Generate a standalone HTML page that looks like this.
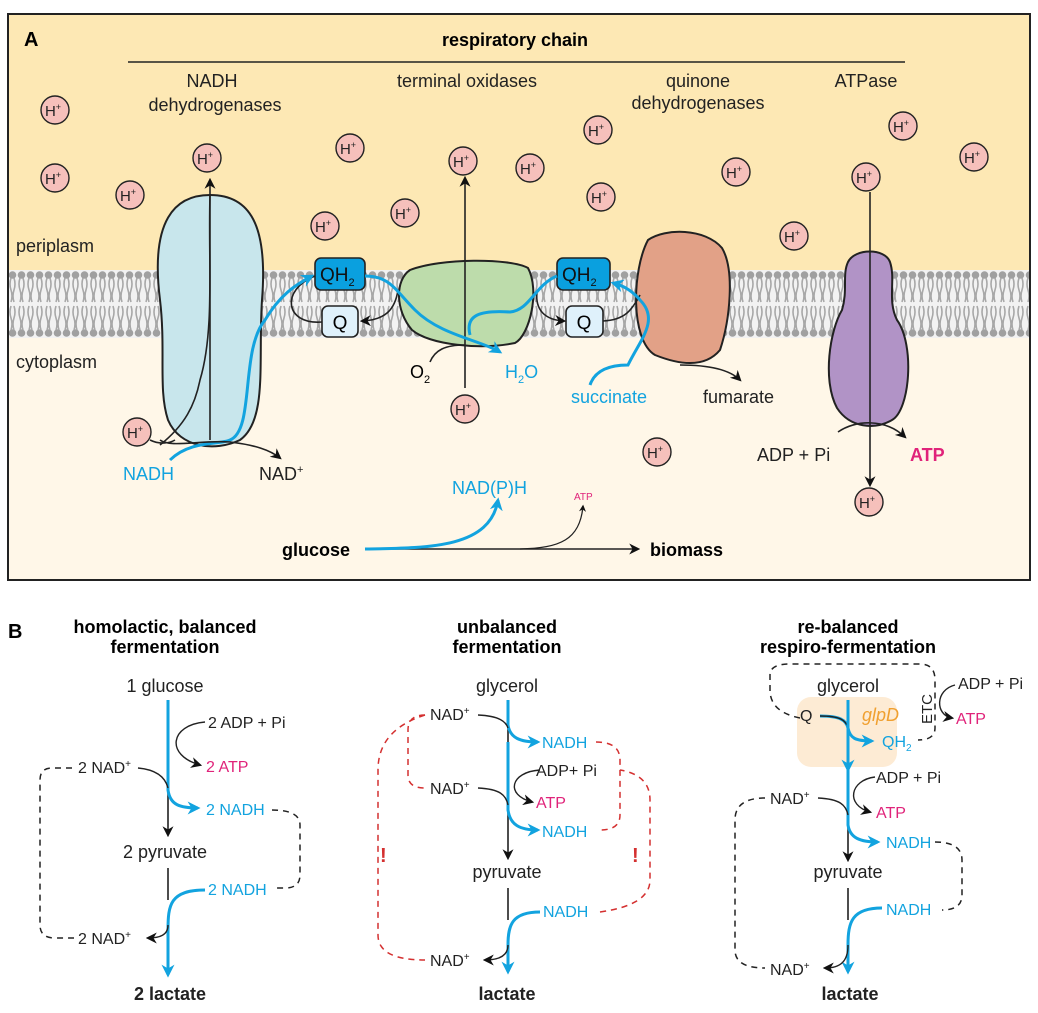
<!DOCTYPE html>
<html><head><meta charset="utf-8"><style>
html,body{margin:0;padding:0;background:#fff}
svg{display:block}
text{font-family:"Liberation Sans",Arial,sans-serif}
</style></head><body>
<svg width="1038" height="1013" viewBox="0 0 1038 1013" xmlns="http://www.w3.org/2000/svg">
<defs>
<marker id="ab" viewBox="0 0 10 10" refX="8" refY="5" markerWidth="11" markerHeight="11" markerUnits="userSpaceOnUse" orient="auto-start-reverse"><path d="M0,0 L10,5 L0,10 L3,5z" fill="#111"/></marker>
<marker id="ac" viewBox="0 0 10 10" refX="8" refY="5" markerWidth="13" markerHeight="13" markerUnits="userSpaceOnUse" orient="auto-start-reverse"><path d="M0,0 L10,5 L0,10 L3,5z" fill="#12a3df"/></marker>
<marker id="as" viewBox="0 0 10 10" refX="8" refY="5" markerWidth="7" markerHeight="7" markerUnits="userSpaceOnUse" orient="auto"><path d="M0,0 L10,5 L0,10 L3,5z" fill="#111"/></marker>
<pattern id="lip" width="9" height="68" patternUnits="userSpaceOnUse" x="8" y="270">
<circle cx="4.5" cy="5" r="3.8" fill="#a0a0a0"/>
<circle cx="4.5" cy="63" r="3.8" fill="#a0a0a0"/>
<path d="M3,8 q-2,6 0,12 q2,6 0,12 M6,8 q2,6 0,12 q-2,6 0,12 M3,36 q-2,6 0,12 q2,6 0,12 M6,36 q2,6 0,12 q-2,6 0,12" stroke="#a8a8a8" stroke-width="1.6" fill="none"/>
</pattern>
</defs>
<rect x="8" y="14" width="1022" height="566" fill="#fff7e8"/>
<rect x="8" y="14" width="1022" height="292" fill="#fde8b4"/>
<rect x="8" y="270" width="1022" height="68" fill="#f2f2f2"/>
<rect x="8" y="270" width="1022" height="68" fill="url(#lip)"/>
<rect x="8" y="14" width="1022" height="566" fill="none" stroke="#222" stroke-width="2"/>
<text x="24" y="46" font-size="20" font-weight="bold">A</text>
<text x="515" y="46" font-size="18" font-weight="bold" text-anchor="middle">respiratory chain</text>
<line x1="128" y1="62" x2="905" y2="62" stroke="#222" stroke-width="1.5"/>
<g font-size="18" text-anchor="middle" fill="#222">
<text x="212" y="87">NADH</text><text x="215" y="111">dehydrogenases</text>
<text x="467" y="87">terminal oxidases</text>
<text x="698" y="87">quinone</text><text x="698" y="109">dehydrogenases</text>
<text x="866" y="87">ATPase</text>
</g>
<text x="16" y="252" font-size="18" fill="#222">periplasm</text>
<text x="16" y="368" font-size="18" fill="#222">cytoplasm</text>
<path d="M160,300 C150,220 175,195 210,195 C250,195 268,225 262,300 C258,360 268,420 240,440 C215,452 180,448 168,420 C158,390 166,350 160,300Z" fill="#c8e6ec" stroke="#222" stroke-width="2"/>
<path d="M210,195 C208,260 215,330 200,380 C195,405 185,425 160,445" fill="none" stroke="#222" stroke-width="1.6"/>
<path d="M410,270 C440,258 510,258 528,268 C540,290 530,335 515,343 C480,350 430,345 412,330 C395,310 395,280 410,270Z" fill="#bddcab" stroke="#222" stroke-width="2"/>
<path d="M648,240 C665,228 705,228 722,248 C735,270 730,320 720,350 C705,368 680,365 655,355 C630,340 632,270 648,240Z" fill="#e2a187" stroke="#222" stroke-width="2"/>
<path d="M848,262 C855,248 885,248 890,262 C896,280 887,300 897,320 C915,345 910,410 892,420 C875,430 850,428 837,408 C822,380 830,330 842,310 C848,290 842,275 848,262Z" fill="#b193c6" stroke="#222" stroke-width="2"/>
<line x1="210" y1="440" x2="210" y2="180" stroke="#222" stroke-width="1.6" marker-end="url(#ab)"/>
<line x1="465" y1="388" x2="465" y2="178" stroke="#222" stroke-width="1.6" marker-end="url(#ab)"/>
<line x1="870" y1="192" x2="870" y2="485" stroke="#222" stroke-width="1.6" marker-end="url(#ab)"/>
<rect x="315" y="258" width="50" height="32" rx="6" fill="#0aa0df" stroke="#222" stroke-width="1.6"/>
<text x="320" y="281" font-size="19" fill="#111">QH<tspan font-size="11" dy="5">2</tspan></text>
<rect x="322" y="306" width="36" height="31" rx="6" fill="#dff1fb" stroke="#222" stroke-width="1.6"/>
<text x="340" y="329" font-size="19" text-anchor="middle">Q</text>
<rect x="557" y="258" width="53" height="32" rx="6" fill="#0aa0df" stroke="#222" stroke-width="1.6"/>
<text x="562" y="281" font-size="19" fill="#111">QH<tspan font-size="11" dy="5">2</tspan></text>
<rect x="566" y="306" width="37" height="31" rx="6" fill="#dff1fb" stroke="#222" stroke-width="1.6"/>
<text x="584" y="329" font-size="19" text-anchor="middle">Q</text>
<path d="M315,276 C280,290 285,325 322,322" fill="none" stroke="#222" stroke-width="1.6"/>
<path d="M398,290 C395,310 385,320 362,321" fill="none" stroke="#222" stroke-width="1.6" marker-end="url(#ab)"/>
<path d="M537,292 C535,310 545,320 564,321" fill="none" stroke="#222" stroke-width="1.6" marker-end="url(#ab)"/>
<path d="M603,321 C625,320 632,310 640,295" fill="none" stroke="#222" stroke-width="1.6"/>
<path d="M170,460 C190,440 220,445 230,440 C255,430 240,350 265,320 C280,295 295,285 312,276" fill="none" stroke="#12a3df" stroke-width="3" marker-end="url(#ac)"/>
<path d="M365,276 C390,276 395,290 415,310 C440,335 480,340 500,352" fill="none" stroke="#12a3df" stroke-width="3" marker-end="url(#ac)"/>
<path d="M557,276 C535,285 530,310 510,312 C480,310 465,315 470,335" fill="none" stroke="#12a3df" stroke-width="3"/>
<path d="M590,385 C595,370 610,365 628,365 C640,340 660,320 640,300 C630,288 620,285 613,283" fill="none" stroke="#12a3df" stroke-width="3" marker-end="url(#ac)"/>
<path d="M160,440 C170,448 200,440 230,442 C255,445 270,450 280,458" fill="none" stroke="#222" stroke-width="1.6" marker-end="url(#ab)"/>
<path d="M150,440 C160,445 170,443 175,440" fill="none" stroke="#222" stroke-width="1.6"/>
<path d="M430,362 C435,350 445,345 465,345" fill="none" stroke="#222" stroke-width="1.6"/>
<path d="M680,365 C710,365 730,370 740,380" fill="none" stroke="#222" stroke-width="1.6" marker-end="url(#ab)"/>
<path d="M838,432 C855,420 885,418 905,437" fill="none" stroke="#222" stroke-width="1.6" marker-end="url(#ab)"/>
<text x="410" y="378" font-size="18">O<tspan font-size="11" dy="5">2</tspan></text>
<text x="505" y="378" font-size="18" fill="#12a3df">H<tspan font-size="11" dy="5">2</tspan><tspan dy="-5">O</tspan></text>
<text x="571" y="403" font-size="18" fill="#12a3df">succinate</text>
<text x="703" y="403" font-size="18" fill="#222">fumarate</text>
<text x="757" y="461" font-size="18" fill="#222">ADP + Pi</text>
<text x="910" y="461" font-size="18" font-weight="bold" fill="#e0237a">ATP</text>
<text x="123" y="480" font-size="18" fill="#12a3df">NADH</text>
<text x="259" y="480" font-size="18" fill="#222">NAD<tspan font-size="11" dy="-7">+</tspan></text>
<text x="452" y="494" font-size="18" fill="#12a3df">NAD(P)H</text>
<text x="574" y="500" font-size="10" fill="#e0237a">ATP</text>
<text x="282" y="556" font-size="18" font-weight="bold">glucose</text>
<text x="650" y="556" font-size="18" font-weight="bold">biomass</text>
<path d="M365,549 L638,549" stroke="#222" stroke-width="1.6" marker-end="url(#ab)"/>
<path d="M520,549 C560,548 580,540 583,506" fill="none" stroke="#222" stroke-width="1.3" marker-end="url(#as)"/>
<path d="M365,549 C430,548 490,548 498,500" fill="none" stroke="#12a3df" stroke-width="3" marker-end="url(#ac)"/>
<g font-size="15" text-anchor="middle">
<g fill="#f6c0bb" stroke="#222" stroke-width="1.4">
<circle cx="55" cy="110" r="14"/><circle cx="55" cy="178" r="14"/><circle cx="130" cy="195" r="14"/><circle cx="207" cy="158" r="14"/><circle cx="350" cy="148" r="14"/><circle cx="325" cy="226" r="14"/><circle cx="405" cy="213" r="14"/><circle cx="463" cy="161" r="14"/><circle cx="530" cy="168" r="14"/><circle cx="598" cy="130" r="14"/><circle cx="601" cy="197" r="14"/><circle cx="736" cy="172" r="14"/><circle cx="794" cy="236" r="14"/><circle cx="903" cy="126" r="14"/><circle cx="974" cy="157" r="14"/><circle cx="866" cy="177" r="14"/><circle cx="465" cy="409" r="14"/><circle cx="657" cy="452" r="14"/><circle cx="869" cy="502" r="14"/><circle cx="137" cy="432" r="14"/>
</g>
<g fill="#222">
<text x="53" y="116">H<tspan font-size="9" dy="-6">+</tspan></text><text x="53" y="184">H<tspan font-size="9" dy="-6">+</tspan></text><text x="128" y="201">H<tspan font-size="9" dy="-6">+</tspan></text><text x="205" y="164">H<tspan font-size="9" dy="-6">+</tspan></text><text x="348" y="154">H<tspan font-size="9" dy="-6">+</tspan></text><text x="323" y="232">H<tspan font-size="9" dy="-6">+</tspan></text><text x="403" y="219">H<tspan font-size="9" dy="-6">+</tspan></text><text x="461" y="167">H<tspan font-size="9" dy="-6">+</tspan></text><text x="528" y="174">H<tspan font-size="9" dy="-6">+</tspan></text><text x="596" y="136">H<tspan font-size="9" dy="-6">+</tspan></text><text x="599" y="203">H<tspan font-size="9" dy="-6">+</tspan></text><text x="734" y="178">H<tspan font-size="9" dy="-6">+</tspan></text><text x="792" y="242">H<tspan font-size="9" dy="-6">+</tspan></text><text x="901" y="132">H<tspan font-size="9" dy="-6">+</tspan></text><text x="972" y="163">H<tspan font-size="9" dy="-6">+</tspan></text><text x="864" y="183">H<tspan font-size="9" dy="-6">+</tspan></text><text x="463" y="415">H<tspan font-size="9" dy="-6">+</tspan></text><text x="655" y="458">H<tspan font-size="9" dy="-6">+</tspan></text><text x="867" y="508">H<tspan font-size="9" dy="-6">+</tspan></text><text x="135" y="438">H<tspan font-size="9" dy="-6">+</tspan></text>
</g></g>

<text x="8" y="638" font-size="20" font-weight="bold">B</text>
<g font-size="18" font-weight="bold" text-anchor="middle">
<text x="165" y="633">homolactic, balanced</text><text x="165" y="653">fermentation</text>
<text x="507" y="633">unbalanced</text><text x="507" y="653">fermentation</text>
<text x="848" y="633">re-balanced</text><text x="848" y="653">respiro-fermentation</text>
</g>
<g font-size="16" fill="#222">
<text x="165" y="692" font-size="18" text-anchor="middle">1 glucose</text>
<path d="M168,700 L168,835" stroke="#222" stroke-width="1.6" marker-end="url(#ab)"/>
<path d="M168,700 L168,790 C170,805 180,808 198,808" fill="none" stroke="#12a3df" stroke-width="3" marker-end="url(#ac)"/>
<path d="M205,722 C170,725 165,755 200,765" fill="none" stroke="#222" stroke-width="1.4" marker-end="url(#ab)"/>
<text x="208" y="728">2 ADP + Pi</text>
<text x="206" y="772" fill="#e0237a">2 ATP</text>
<path d="M138,768 C160,770 166,780 168,788" fill="none" stroke="#222" stroke-width="1.4"/>
<text x="78" y="773">2 NAD<tspan font-size="10" dy="-6">+</tspan></text>
<text x="206" y="815" fill="#12a3df">2 NADH</text>
<text x="165" y="858" font-size="18" text-anchor="middle">2 pyruvate</text>
<path d="M168,868 L168,900" stroke="#222" stroke-width="1.6"/>
<path d="M205,890 C170,890 168,905 168,930 L168,975" fill="none" stroke="#12a3df" stroke-width="3" marker-end="url(#ac)"/>
<text x="208" y="895" fill="#12a3df">2 NADH</text>
<path d="M168,925 C168,935 160,938 148,938" fill="none" stroke="#222" stroke-width="1.4" marker-end="url(#ab)"/>
<text x="78" y="944">2 NAD<tspan font-size="10" dy="-6">+</tspan></text>
<path d="M72,768 L52,768 Q40,768 40,780 L40,925 Q40,938 55,938 L74,938" fill="none" stroke="#222" stroke-width="1.5" stroke-dasharray="6,5"/>
<path d="M272,810 Q300,810 300,825 L300,875 Q300,888 285,888 L274,888" fill="none" stroke="#222" stroke-width="1.5" stroke-dasharray="6,5"/>
<text x="170" y="1000" font-size="18" font-weight="bold" text-anchor="middle">2 lactate</text>
<text x="507" y="692" font-size="18" text-anchor="middle">glycerol</text>
<path d="M508,700 L508,858" stroke="#222" stroke-width="1.6" marker-end="url(#ab)"/>
<path d="M508,700 L508,725 C510,738 520,742 538,742" fill="none" stroke="#12a3df" stroke-width="3" marker-end="url(#ac)"/>
<path d="M508,742 L508,810 C510,825 520,830 538,830" fill="none" stroke="#12a3df" stroke-width="3" marker-end="url(#ac)"/>
<path d="M478,715 C500,716 506,722 508,728" fill="none" stroke="#222" stroke-width="1.4"/>
<text x="430" y="720">NAD<tspan font-size="10" dy="-6">+</tspan></text>
<text x="542" y="748" fill="#12a3df">NADH</text>
<path d="M540,770 C510,772 505,795 532,802" fill="none" stroke="#222" stroke-width="1.4" marker-end="url(#ab)"/>
<text x="536" y="776">ADP+ Pi</text>
<text x="536" y="808" fill="#e0237a">ATP</text>
<path d="M478,788 C500,789 506,795 508,805" fill="none" stroke="#222" stroke-width="1.4"/>
<text x="430" y="794">NAD<tspan font-size="10" dy="-6">+</tspan></text>
<text x="542" y="837" fill="#12a3df">NADH</text>
<text x="507" y="878" font-size="18" text-anchor="middle">pyruvate</text>
<path d="M508,888 L508,920" stroke="#222" stroke-width="1.6"/>
<path d="M540,912 C512,912 508,925 508,945 L508,972" fill="none" stroke="#12a3df" stroke-width="3" marker-end="url(#ac)"/>
<text x="543" y="917" fill="#12a3df">NADH</text>
<path d="M508,945 C508,955 500,960 485,960" fill="none" stroke="#222" stroke-width="1.4" marker-end="url(#ab)"/>
<text x="430" y="966">NAD<tspan font-size="10" dy="-6">+</tspan></text>
<text x="507" y="1000" font-size="18" font-weight="bold" text-anchor="middle">lactate</text>
<g fill="none" stroke="#d43030" stroke-width="1.5" stroke-dasharray="6,5">
<path d="M425,715 Q408,715 408,730 L408,775 Q408,788 425,788"/>
<path d="M596,742 Q620,742 620,760 L620,815 Q620,830 600,830"/>
<path d="M425,715 Q378,730 378,770 L378,935 Q378,960 425,960"/>
<path d="M600,912 Q650,905 650,880 L650,800 Q650,775 620,770"/>
</g>
<text x="380" y="862" font-size="20" font-weight="bold" fill="#d43030">!</text>
<text x="632" y="862" font-size="20" font-weight="bold" fill="#d43030">!</text>
<rect x="797" y="697" width="100" height="70" rx="14" fill="#fde7cd" opacity="0.85"/>
<path d="M800,718 Q770,712 770,690 L770,675 Q770,664 790,664 L920,664 Q935,664 935,680 L935,728 Q935,740 918,740" fill="none" stroke="#222" stroke-width="1.5" stroke-dasharray="6,5"/>
<text x="848" y="692" font-size="18" text-anchor="middle">glycerol</text>
<text x="800" y="721">Q</text>
<path d="M820,716 C840,716 846,720 848,728 C850,738 855,741 872,741" fill="none" stroke="#12a3df" stroke-width="3" marker-end="url(#ac)"/>
<path d="M820,716 C840,716 846,720 848,728" fill="none" stroke="#222" stroke-width="1.4"/>
<text x="862" y="721" font-size="18" font-style="italic" fill="#f0a030">glpD</text>
<text x="882" y="747" fill="#12a3df">QH<tspan font-size="10" dy="4">2</tspan></text>
<text transform="translate(932,724) rotate(-90)" font-size="15">ETC</text>
<path d="M955,685 C935,690 935,715 952,718" fill="none" stroke="#222" stroke-width="1.4" marker-end="url(#ab)"/>
<text x="958" y="689">ADP + Pi</text>
<text x="956" y="724" fill="#e0237a">ATP</text>
<path d="M848,700 L848,770" stroke="#12a3df" stroke-width="3" marker-end="url(#ac)"/>
<path d="M848,770 L848,860" stroke="#222" stroke-width="1.6" marker-end="url(#ab)"/>
<path d="M848,770 L848,825 C850,838 860,842 878,842" fill="none" stroke="#12a3df" stroke-width="3" marker-end="url(#ac)"/>
<path d="M875,777 C850,780 845,805 870,812" fill="none" stroke="#222" stroke-width="1.4" marker-end="url(#ab)"/>
<text x="876" y="783">ADP + Pi</text>
<text x="876" y="818" fill="#e0237a">ATP</text>
<path d="M818,798 C840,799 846,805 848,815" fill="none" stroke="#222" stroke-width="1.4"/>
<text x="770" y="804">NAD<tspan font-size="10" dy="-6">+</tspan></text>
<text x="886" y="848" fill="#12a3df">NADH</text>
<text x="848" y="878" font-size="18" text-anchor="middle">pyruvate</text>
<path d="M848,888 L848,920" stroke="#222" stroke-width="1.6"/>
<path d="M882,908 C852,908 848,922 848,945 L848,972" fill="none" stroke="#12a3df" stroke-width="3" marker-end="url(#ac)"/>
<text x="886" y="915" fill="#12a3df">NADH</text>
<path d="M848,945 C848,962 840,968 825,968" fill="none" stroke="#222" stroke-width="1.4" marker-end="url(#ab)"/>
<text x="770" y="975">NAD<tspan font-size="10" dy="-6">+</tspan></text>
<path d="M765,798 Q735,798 735,820 L735,950 Q735,968 765,968" fill="none" stroke="#222" stroke-width="1.5" stroke-dasharray="6,5"/>
<path d="M935,842 Q962,842 962,860 L962,895 Q962,910 942,910" fill="none" stroke="#222" stroke-width="1.5" stroke-dasharray="6,5"/>
<text x="850" y="1000" font-size="18" font-weight="bold" text-anchor="middle">lactate</text>
</g>
</svg>
</body></html>
